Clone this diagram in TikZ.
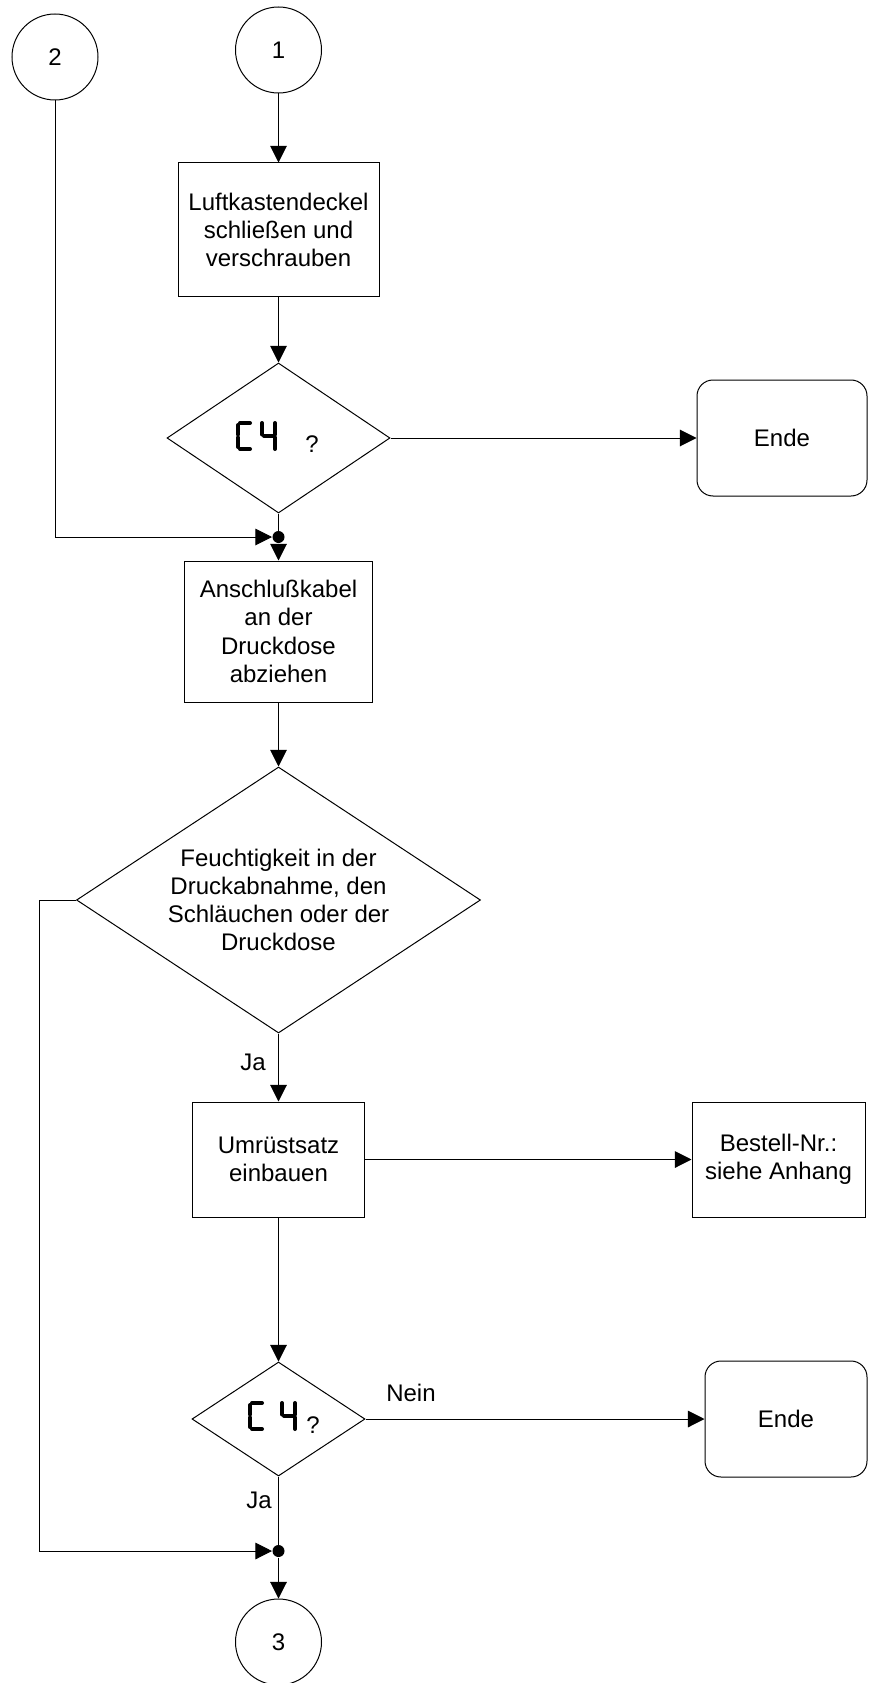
\documentclass[tikz,border=0pt]{standalone}
\usepackage{fontspec}
\setmainfont{Liberation Sans}
\usetikzlibrary{arrows.meta,shapes.geometric}
\begin{document}
\begin{tikzpicture}[x=0.75pt,y=-0.75pt,
  font=\fontsize{18}{21.2}\selectfont, line width=0.75pt,
  box/.style={draw, align=center, inner sep=0pt},
  term/.style={draw, rounded corners=12pt, align=center, inner sep=0pt},
  dec/.style={draw, diamond, aspect=1.52, align=center, inner sep=0pt},
  conn/.style={draw, circle, minimum size=64.5pt, inner sep=0pt},
  dot/.style={fill, circle, minimum size=9pt, inner sep=0pt},
  arr/.style={-{Triangle[length=12.5pt,width=12.5pt]}},
  seg/.style={line width=3pt, line cap=round},
  pics/cfour/.style={code={
    % C
    \draw[seg] (4,2) -- (14,2);
    \draw[seg] (2,4) -- (2,13.5);
    \draw[seg] (2,16.5) -- (2,26);
    \draw[seg] (4,28) -- (14,28);
    % 4
    \draw[seg] (#1+2,2) -- (#1+2,13.5);
    \draw[seg] (#1+4,15) -- (#1+13,15);
    \draw[seg] (#1+15,2) -- (#1+15,13.5);
    \draw[seg] (#1+15,16.5) -- (#1+15,28);
  }}]
\useasboundingbox (0,0) rectangle (869,1683);

\node[conn] (c2) at (55,57) {2};
\node[conn] (c1) at (278.5,50) {1};
\node[box, minimum width=150.75pt, minimum height=100.5pt] (b1) at (278.5,230) {Luftkastendeckel\\schließen und\\verschrauben};
\node[dec, minimum width=167.25pt, minimum height=112.5pt] (d1) at (278.5,438) {};
\pic (s1) at (236,421) {cfour=24};
\node (q1) at (312,444) {?};
\node[term, minimum width=127.5pt, minimum height=87pt] (e1) at (782,438) {Ende};
\node[dot] (j1) at (278.5,537) {};
\node[box, minimum width=141pt, minimum height=105.75pt] (b2) at (278.5,631.5) {Anschlußkabel\\an der\\Druckdose\\abziehen};
\node[dec, minimum width=303pt, minimum height=199.5pt] (d2) at (278.5,900) {Feuchtigkeit in der\\Druckabnahme, den\\Schläuchen oder der\\Druckdose};
\coordinate (k) at (39,900);
\node (ja1) at (253,1062) {Ja};
\node[box, minimum width=129pt, minimum height=86.25pt] (b3) at (278.5,1159.5) {Umrüstsatz\\einbauen};
\node[box, minimum width=129.75pt, minimum height=86.25pt] (n) at (778.5,1159.5) {Bestell-Nr.:\\siehe Anhang};
\node[dec, minimum width=129.75pt, minimum height=85.5pt] (d3) at (278.5,1419) {};
\pic (s3) at (248,1401) {cfour=32};
\node (q3) at (313,1425) {?};
\node (nein) at (411,1393) {Nein};
\node[term, minimum width=121.5pt, minimum height=87pt] (e2) at (786,1419) {Ende};
\node (ja2) at (259,1500) {Ja};
\node[dot] (j2) at (278.5,1551) {};
\node[conn] (c3) at (278.5,1642) {3};

\draw[arr] (c1) -- (b1);
\draw[arr] (b1) -- (d1);
\draw[arr] (d1.east) -- (e1);
\draw[arr] (c2) |- (j1);
\draw (d1.south) -- (j1);
\draw[arr] (j1) -- (b2);
\draw[arr] (b2) -- (d2);
\draw[arr] (d2.west) -- (k) |- (j2);
\draw[arr] (d2.south) -- (b3);
\draw[arr] (b3) -- (n);
\draw[arr] (b3) -- (d3);
\draw[arr] (d3.east) -- (e2);
\draw (d3.south) -- (j2);
\draw[arr] (j2) -- (c3);
\end{tikzpicture}
\end{document}
